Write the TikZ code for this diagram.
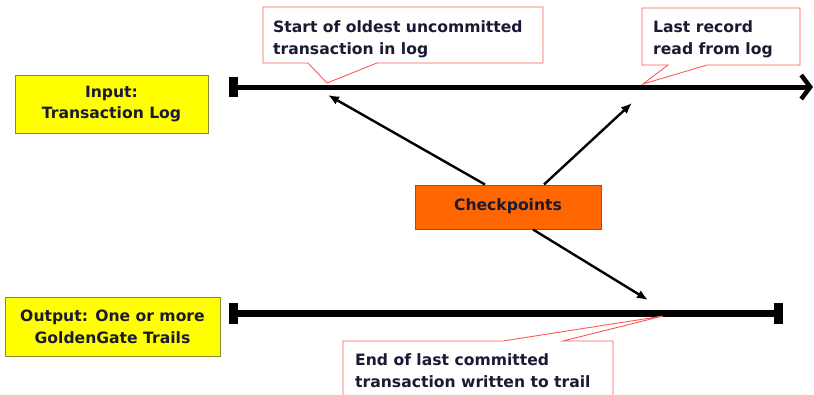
\documentclass[tikz,border=0pt]{standalone}
\usepackage{fontspec}
\setmainfont{DejaVu Sans}
\usetikzlibrary{arrows.meta}
\definecolor{boxyellow}{HTML}{FFFF00}
\definecolor{boxolive}{HTML}{8A8A30}
\definecolor{ckorange}{HTML}{FF6600}
\definecolor{ckedge}{HTML}{B04A10}
\definecolor{noteedge}{HTML}{FF5A5A}
\definecolor{txt}{HTML}{1A1A33}
\begin{document}
\begin{tikzpicture}[x=1pt,y=-1pt,
  lbl/.style={font=\fontsize{15.6}{22}\selectfont\bfseries, text=txt},
  iobox/.style={lbl, draw=boxolive, fill=boxyellow, line width=1pt, align=center, inner sep=0pt},
  ckbox/.style={lbl, draw=ckedge, fill=ckorange, line width=1pt, inner sep=0pt},
  notetext/.style={lbl, align=left, anchor=north west, inner sep=0pt},
  note/.style={draw=noteedge, fill=white, line width=0.9pt, line join=miter},
  tline/.style={line width=5pt},
  ptr/.style={line width=2.4pt, -{Latex[length=11pt,width=9pt]}},
]
\useasboundingbox (0,0) rectangle (814,394);

% source and target boxes
\node[iobox, minimum width=193pt, minimum height=58pt] (input) at (111.5,104) {\raisebox{-2pt}{\shortstack{Input:\\[3pt]Transaction Log}}};
\node[iobox, minimum width=215pt, minimum height=59pt] (output) at (112.5,326.5) {Output: One or more\\GoldenGate Trails};
\node[ckbox, minimum width=186pt, minimum height=44pt] (ckpt) at (508,207) {\raisebox{4pt}{Checkpoints}};

% timelines
\coordinate (logstart) at (229,87);
\coordinate (logend) at (813,87);
\coordinate (trailstart) at (229,313);
\coordinate (trailend) at (783,313);
\draw[tline, {Rectangle[length=9pt,width=20pt]}-{Straight Barb[length=9pt,width=24pt,line width=4.5pt]}] (logstart) -- (logend);
\draw[line width=7pt, {Rectangle[length=9pt,width=21pt]}-{Rectangle[length=9pt,width=21pt]}] (trailstart) -- (trailend);

% points on the timelines
\coordinate (oldest) at (327,83);
\coordinate (lastread) at (643,84);
\coordinate (lastcommit) at (663,316);
\coordinate (ckA) at (328,95);
\coordinate (ckB) at (632,103);
\coordinate (ckC) at (648,300);

% callouts
\draw[note] (263,7) -- (543,7) -- (543,63) -- (377,63) -- (oldest) -- (308,63) -- (263,63) -- cycle;
\node[notetext] (n1) at (273,20) {Start of oldest uncommitted\\transaction in log};

\draw[note] (642,8) -- (800,8) -- (800,65) -- (707,65) -- (lastread) -- (668,65) -- (642,65) -- cycle;
\node[notetext] (n2) at (653,20) {Last record\\read from log};

\draw[note] (343,341) -- (503,341) -- (lastcommit) -- (563,341) -- (613,341) -- (613,400) -- (343,400) -- cycle;
\node[notetext] (n3) at (355,353) {End of last committed\\transaction written to trail};

% checkpoint arrows
\draw[ptr] (ckpt.north -| 485,0) -- (ckA);
\draw[ptr] (ckpt.north -| 544,0) -- (ckB);
\draw[ptr] (ckpt.south -| 533,0) -- (ckC);
\end{tikzpicture}
\end{document}
